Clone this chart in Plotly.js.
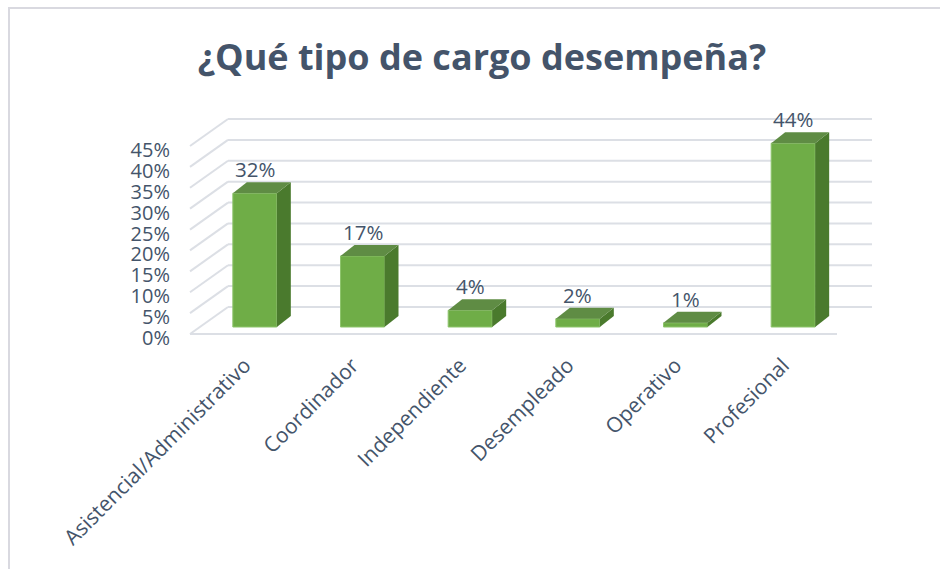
<!DOCTYPE html>
<html>
<head>
<meta charset="utf-8">
<script src="https://cdn.plot.ly/plotly-3.0.1.min.js"></script>
<style>
  html, body { margin: 0; padding: 0; background: #fff; }
  #chart { width: 940px; height: 569px; }
</style>
</head>
<body>
<div id="chart"></div>
<script>
// data
const categories = ['Asistencial/Administrativo', 'Coordinador', 'Independiente', 'Desempleado', 'Operativo', 'Profesional'];
const shares = [0.32, 0.17, 0.04, 0.02, 0.01, 0.44];
const tickValues = [0, 0.05, 0.10, 0.15, 0.20, 0.25, 0.30, 0.35, 0.40, 0.45];

// page geometry (pixels)
const W = 940, H = 569;
const PLOT_L = 201, PLOT_R = 847;   // front row of bars
const BASE = 327, TOP = 139;         // y = 0 and y = 45%
const YMAX = 0.45;
const PAD_B = 12, PAD_T = 30;        // room for the floor edge and back wall
const pxX = (PLOT_R - PLOT_L) / categories.length;
const pxY = (BASE - TOP) / YMAX;

// 3d look: half width of the front face, depth of the bar
const HALF = 22 / pxX;
const DX = 14 / pxX;
const DY = 11 / pxY;

const textColor = '#44546a';
const gridColor = '#dcdfe5';
const font = 'Open Sans, Noto Sans, sans-serif';

const idx = categories.map((c, i) => i);

const bars = {
    type: 'bar',
    x: idx,
    y: shares,
    width: 2 * HALF,
    marker: {
        color: '#6fad47',
        line: { color: '#8ec46d', width: 1 }
    },
    hoverinfo: 'none'
};

const shapes = [];

// outer chart border (only left and top are visible)
shapes.push({
    type: 'rect', xref: 'paper', yref: 'paper',
    x0: 9 / W, x1: 1.05, y0: -0.05, y1: 1 - 8 / H,
    line: { color: '#d9d9e0', width: 2 },
    layer: 'below'
});

// back wall gridlines and the slanted side wall lines
tickValues.forEach(v => {
    shapes.push({
        type: 'line', xref: 'paper', yref: 'y', ysizemode: 'pixel', yanchor: v,
        x0: 228 / W, x1: 872 / W, y0: 20, y1: 20,
        line: { color: gridColor, width: 2 }, layer: 'below'
    });
    shapes.push({
        type: 'line', xref: 'paper', yref: 'y', ysizemode: 'pixel', yanchor: v,
        x0: 190 / W, x1: 228 / W, y0: -7, y1: 20,
        line: { color: gridColor, width: 2 }, layer: 'below'
    });
});

// front edge of the floor
shapes.push({
    type: 'line', xref: 'paper', yref: 'y', ysizemode: 'pixel', yanchor: 0,
    x0: 190 / W, x1: 837 / W, y0: -7, y1: -7,
    line: { color: gridColor, width: 2 }, layer: 'below'
});

// side and top faces of each bar
idx.forEach(i => {
    const v = shares[i];
    shapes.push({
        type: 'path', xref: 'x', yref: 'y',
        path: `M${i + HALF},0 L${i + HALF + DX},${DY} L${i + HALF + DX},${v + DY} L${i + HALF},${v} Z`,
        fillcolor: '#4a7a2d', line: { width: 0 }, layer: 'above'
    });
    shapes.push({
        type: 'path', xref: 'x', yref: 'y',
        path: `M${i - HALF},${v} L${i + HALF},${v} L${i + HALF + DX},${v + DY} L${i - HALF + DX},${v + DY} Z`,
        fillcolor: '#5f8c44', line: { width: 0 }, layer: 'above'
    });
});

const annotations = idx.map(i => ({
    x: i, y: shares[i], xref: 'x', yref: 'y',
    text: Math.round(shares[i] * 100) + '%',
    showarrow: false, yanchor: 'middle', yshift: 24,
    font: { family: font, size: 20.5, color: textColor }
}));

const layout = {
    width: W,
    height: H,
    margin: { l: 0, r: 0, t: 0, b: 0 },
    paper_bgcolor: '#fff',
    plot_bgcolor: 'rgba(0,0,0,0)',
    showlegend: false,
    title: {
        text: '¿Qué tipo de cargo desempeña?',
        x: 482 / W, xanchor: 'center',
        y: 1 - 57 / H, yanchor: 'middle', yref: 'paper',
        font: { family: font, size: 36, weight: 700, color: textColor }
    },
    xaxis: {
        domain: [PLOT_L / W, PLOT_R / W],
        range: [-0.5, categories.length - 0.5],
        tickmode: 'array',
        tickvals: idx,
        ticktext: categories,
        tickangle: -45,
        ticks: '',
        ticklabelstandoff: 9,
        ticklabelshift: -10,
        showgrid: false, zeroline: false, showline: false,
        fixedrange: true,
        tickfont: { family: font, size: 21, color: textColor }
    },
    yaxis: {
        domain: [1 - (BASE + PAD_B) / H, 1 - (TOP - PAD_T) / H],
        range: [-PAD_B / pxY, YMAX + PAD_T / pxY],
        tickmode: 'array',
        tickvals: tickValues,
        tickformat: '.0%',
        ticks: '',
        ticklabelstandoff: 30,
        ticklabelshift: 11,
        showgrid: false, zeroline: false, showline: false,
        fixedrange: true,
        tickfont: { family: font, size: 20, color: textColor }
    },
    shapes,
    annotations
};

Plotly.newPlot('chart', [bars], layout, { displayModeBar: false, staticPlot: true });
</script>
</body>
</html>
